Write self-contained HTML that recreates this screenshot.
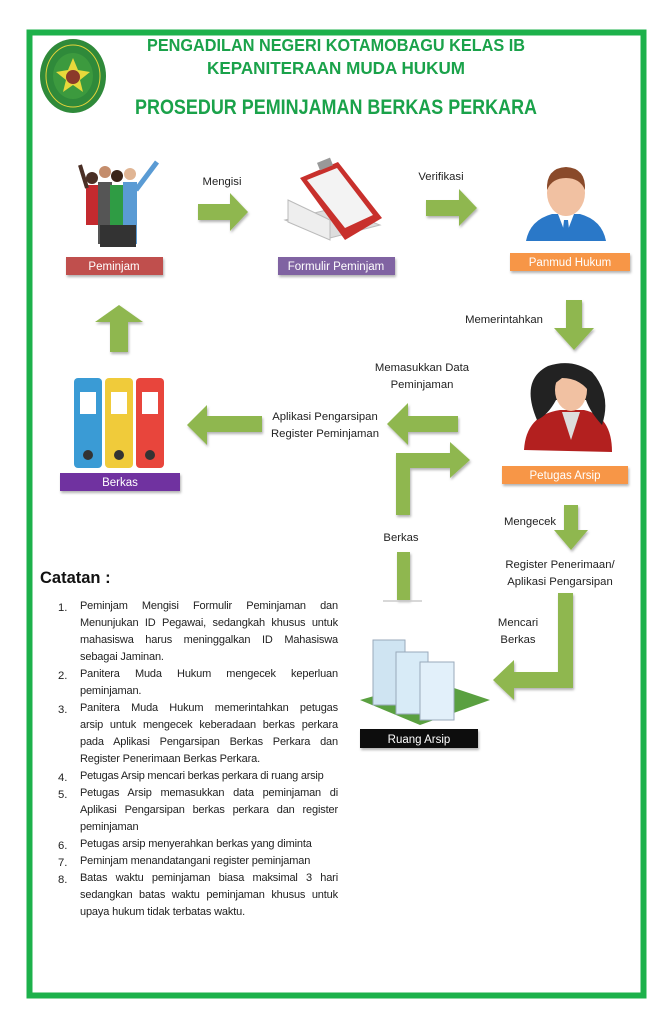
<!DOCTYPE html>
<html><head><meta charset="utf-8"><style>
body{margin:0;background:#fff;}
#c{position:relative;width:670px;height:1024px;overflow:hidden;font-family:"Liberation Sans",sans-serif;}
svg{position:absolute;left:0;top:0}
.n{position:absolute;font-size:11.3px;color:#222;line-height:16.7px;}
.l{position:absolute;left:80px;width:258px;font-size:11px;letter-spacing:-0.15px;color:#222;text-align:justify;text-align-last:justify;white-space:nowrap}
.l.e{text-align-last:left}
</style></head><body><div id="c">
<svg width="670" height="1024" viewBox="0 0 670 1024" font-family="Liberation Sans, sans-serif">
<defs><filter id="sh"><feDropShadow dx="1" dy="2" stdDeviation="1.2" flood-color="#000" flood-opacity="0.3"/></filter></defs>
<rect x="29.5" y="32.5" width="614" height="963" fill="none" stroke="#1db14b" stroke-width="6"/>
<ellipse cx="73" cy="76" rx="33" ry="37" fill="#2f8a3a"/>
<ellipse cx="73" cy="76" rx="27" ry="31" fill="none" stroke="#e4d33a" stroke-width="1"/>
<ellipse cx="73" cy="76" rx="20" ry="23" fill="#3c9a3e"/>
<polygon points="73,58 78,70 90,72 80,80 83,92 73,85 63,92 66,80 56,72 68,70" fill="#e7d93b"/>
<circle cx="73" cy="77" r="7" fill="#8b3a2a"/>
<g fill="#1aa24a" font-weight="bold">
<text x="147" y="51" font-size="17.5" textLength="378" lengthAdjust="spacingAndGlyphs">PENGADILAN NEGERI KOTAMOBAGU KELAS IB</text>
<text x="207" y="74" font-size="17.5" textLength="258" lengthAdjust="spacingAndGlyphs">KEPANITERAAN MUDA HUKUM</text>
<text x="135" y="114" font-size="21" textLength="402" lengthAdjust="spacingAndGlyphs">PROSEDUR PEMINJAMAN BERKAS PERKARA</text>
</g>
<g>
<rect x="86" y="185" width="14" height="40" fill="#c42a2f"/><circle cx="92" cy="178" r="6" fill="#4a2f25"/>
<rect x="98" y="182" width="14" height="62" fill="#555"/><circle cx="105" cy="172" r="6" fill="#c48d6c"/>
<rect x="110" y="185" width="14" height="60" fill="#2f9c44"/><circle cx="117" cy="176" r="6" fill="#3a2418"/>
<rect x="123" y="182" width="14" height="62" fill="#5a9bd4"/><circle cx="130" cy="174" r="6" fill="#e0b594"/>
<line x1="80" y1="165" x2="87" y2="188" stroke="#4a2f25" stroke-width="4"/>
<line x1="157" y1="162" x2="136" y2="190" stroke="#5a9bd4" stroke-width="5"/>
<rect x="100" y="225" width="36" height="22" fill="#333"/>
</g>
<g>
<polygon points="285,220 330,238 380,225 335,208" fill="#ddd" stroke="#bbb"/>
<polygon points="288,200 330,220 330,240 288,222" fill="#eee" stroke="#bbb"/>
<polygon points="300,178 338,162 382,218 345,240" fill="#c8302c"/>
<polygon points="307,180 337,168 373,215 345,228" fill="#f3f3f3"/>
<rect x="318" y="160" width="14" height="8" fill="#999" transform="rotate(-22 325 164)"/>
</g>
<g>
<path d="M526,241 Q530,220 552,214 L580,214 Q602,220 606,241 Z" fill="#2a78c8"/>
<polygon points="558,214 574,214 566,235" fill="#fff"/>
<polygon points="564,220 568,220 570,238 566,241 562,238" fill="#2a78c8"/>
<ellipse cx="566" cy="193" rx="19" ry="23" fill="#f1c1a2"/>
<path d="M547,190 Q546,168 566,167 Q586,168 585,190 Q580,178 566,178 Q552,178 547,190Z" fill="#8a4a2a"/>
</g>
<g filter="url(#sh)">
<rect x="66" y="257" width="97" height="18" fill="#c0504d"/>
<rect x="278" y="257" width="117" height="18" fill="#8064a2"/>
<rect x="510" y="253" width="120" height="18" fill="#f79646"/>
<rect x="502" y="466" width="126" height="18" fill="#f79646"/>
<rect x="60" y="473" width="120" height="18" fill="#7030a0"/>
<rect x="360" y="729" width="118" height="19" fill="#111"/>
</g>
<g fill="#fff" font-size="11.5" text-anchor="middle">
<text x="114" y="270">Peminjam</text>
<text x="336" y="270">Formulir Peminjam</text>
<text x="570" y="266">Panmud Hukum</text>
<text x="565" y="479">Petugas Arsip</text>
<text x="120" y="486">Berkas</text>
<text x="419" y="743">Ruang Arsip</text>
</g>
<g fill="#8fb74f" filter="url(#sh)">
<polygon points="198,204 230,204 230,193 248,212 230,231 230,220 198,220"/>
<polygon points="426,200 459,200 459,189 477,208 459,226 459,216 426,216"/>
<polygon points="566,300 582,300 582,328 594,328 574,350 554,328 566,328"/>
<polygon points="110,352 128,352 128,322 143,322 119,305 95,322 110,322"/>
<polygon points="262,416 262,432 207,432 207,445 187,425 207,405 207,416"/>
<polygon points="458,416 458,432 408,432 408,445 387,424 408,403 408,416"/>
<polygon points="396,515 410,515 410,468 450,468 450,478 470,460 450,442 450,453 396,453"/>
<polygon points="397,552 410,552 410,600 397,600"/>
<polygon points="564,505 578,505 578,530 588,530 571,550 554,530 564,530"/>
<polygon points="558,593 573,593 573,688 514,688 514,700 493,680 514,660 514,672 558,672"/>
</g>
<line x1="383" y1="601" x2="422" y2="601" stroke="#ccc" stroke-width="1.5"/>
<g>
<rect x="74" y="378" width="28" height="90" rx="4" fill="#3a9bd5"/>
<rect x="105" y="378" width="28" height="90" rx="4" fill="#f0cb3a"/>
<rect x="136" y="378" width="28" height="90" rx="4" fill="#e8453c"/>
<rect x="80" y="392" width="16" height="22" fill="#fff"/><rect x="111" y="392" width="16" height="22" fill="#fff"/><rect x="142" y="392" width="16" height="22" fill="#fff"/>
<circle cx="88" cy="455" r="5" fill="#333"/><circle cx="119" cy="455" r="5" fill="#333"/><circle cx="150" cy="455" r="5" fill="#333"/>
</g>
<g>
<path d="M524,450 Q526,415 560,410 L584,410 Q612,416 612,452 Z" fill="#b3201f"/>
<polygon points="562,412 580,412 571,440" fill="#ddd"/>
<path d="M537,420 Q520,380 548,366 Q572,358 592,372 Q612,395 602,425 Q590,412 586,400 L556,400 Q548,415 537,420Z" fill="#222"/>
<ellipse cx="571" cy="390" rx="16" ry="21" fill="#f1c1a2"/>
<path d="M553,385 Q556,368 575,368 Q590,372 588,390 Q578,378 562,378Z" fill="#222"/>
</g>
<g>
<polygon points="360,700 420,725 490,700 430,680" fill="#5aa040"/>
<rect x="373" y="640" width="32" height="65" fill="#cfe4f2" stroke="#9ab" />
<rect x="396" y="652" width="32" height="62" fill="#d8ebf7" stroke="#9ab"/>
<rect x="420" y="662" width="34" height="58" fill="#e2f0fa" stroke="#9ab"/>
</g>
<g fill="#222" font-size="11.3" text-anchor="middle">
<text x="222" y="185">Mengisi</text>
<text x="441" y="180">Verifikasi</text>
<text x="504" y="323">Memerintahkan</text>
<text x="422" y="371">Memasukkan Data</text>
<text x="422" y="388">Peminjaman</text>
<text x="325" y="420">Aplikasi Pengarsipan</text>
<text x="325" y="437">Register Peminjaman</text>
<text x="530" y="525">Mengecek</text>
<text x="401" y="541">Berkas</text>
<text x="560" y="568">Register Penerimaan/</text>
<text x="560" y="585">Aplikasi Pengarsipan</text>
<text x="518" y="626">Mencari</text>
<text x="518" y="643">Berkas</text>
</g>
<text x="40" y="583" font-size="16.5" font-weight="bold" fill="#111">Catatan :</text>
</svg>
<div class="n" style="left:58px;top:600px">1.</div>
<div class="l" style="top:600px">Peminjam Mengisi Formulir Peminjaman dan</div>
<div class="l" style="top:617px">Menunjukan ID Pegawai, sedangkah khusus untuk</div>
<div class="l" style="top:634px">mahasiswa harus meninggalkan ID Mahasiswa</div>
<div class="l e" style="top:651px">sebagai Jaminan.</div>
<div class="n" style="left:58px;top:668px">2.</div>
<div class="l" style="top:668px">Panitera Muda Hukum mengecek keperluan</div>
<div class="l e" style="top:685px">peminjaman.</div>
<div class="n" style="left:58px;top:702px">3.</div>
<div class="l" style="top:702px">Panitera Muda Hukum memerintahkan petugas</div>
<div class="l" style="top:719px">arsip untuk mengecek keberadaan berkas perkara</div>
<div class="l" style="top:736px">pada Aplikasi Pengarsipan Berkas Perkara dan</div>
<div class="l e" style="top:753px">Register Penerimaan Berkas Perkara.</div>
<div class="n" style="left:58px;top:770px">4.</div>
<div class="l e" style="top:770px;letter-spacing:-0.25px">Petugas Arsip mencari berkas perkara di ruang arsip</div>
<div class="n" style="left:58px;top:787px">5.</div>
<div class="l" style="top:787px">Petugas Arsip memasukkan data peminjaman di</div>
<div class="l" style="top:804px">Aplikasi Pengarsipan berkas perkara dan register</div>
<div class="l e" style="top:821px">peminjaman</div>
<div class="n" style="left:58px;top:838px">6.</div>
<div class="l e" style="top:838px">Petugas arsip menyerahkan berkas yang diminta</div>
<div class="n" style="left:58px;top:855px">7.</div>
<div class="l e" style="top:855px">Peminjam menandatangani register peminjaman</div>
<div class="n" style="left:58px;top:872px">8.</div>
<div class="l" style="top:872px">Batas waktu peminjaman biasa maksimal 3 hari</div>
<div class="l" style="top:889px">sedangkan batas waktu peminjaman khusus untuk</div>
<div class="l e" style="top:906px">upaya hukum tidak terbatas waktu.</div>
</div></body></html>
